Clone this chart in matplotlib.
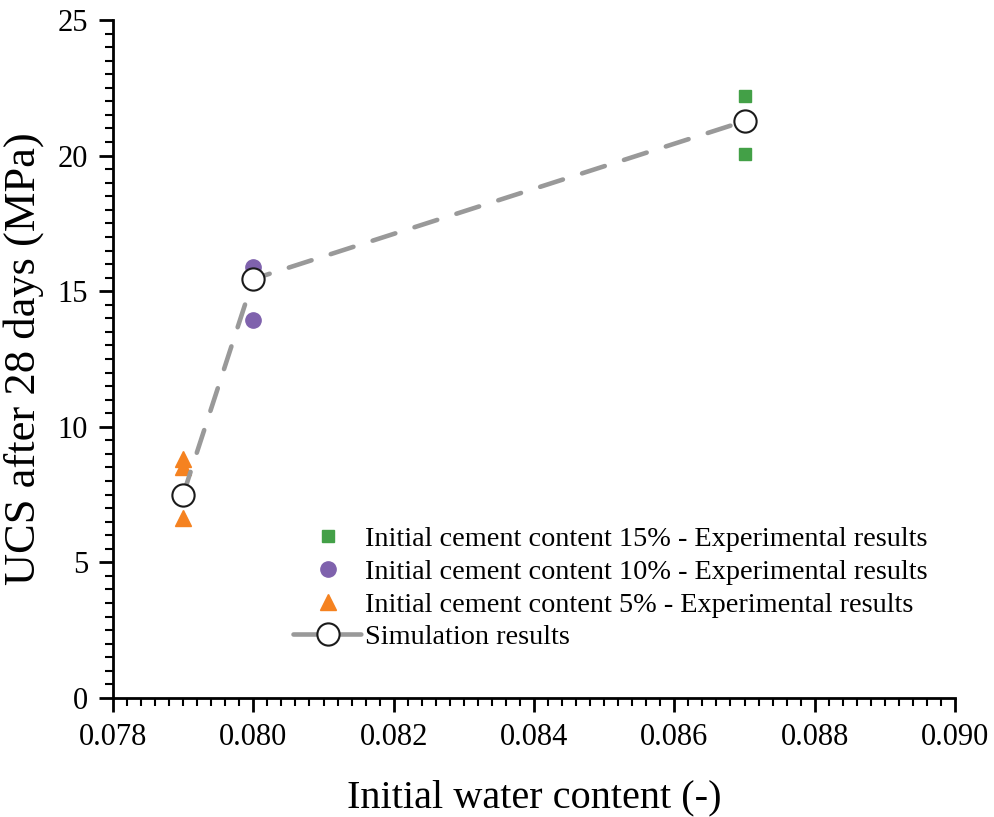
import matplotlib.pyplot as plt
from matplotlib.ticker import MultipleLocator, FormatStrFormatter

plt.rcParams['font.family'] = ['Liberation Serif', 'DejaVu Serif']

# Experimental data
x_c15 = [0.087, 0.087]
y_c15 = [22.2, 20.05]
x_c10 = [0.080, 0.080]
y_c10 = [15.9, 13.95]
x_c5 = [0.079, 0.079, 0.079]
y_c5 = [8.8, 8.5, 6.65]

# Simulation
x_sim = [0.079, 0.080, 0.087]
y_sim = [7.5, 15.45, 21.27]

fig = plt.figure(figsize=(9.94, 8.17), dpi=100)
ax = fig.add_axes([0.1137, 0.1457, 0.8471, 0.8298])

ax.plot(x_c15, y_c15, 's', color='#43a047', markersize=9, linestyle='none',
        label='Initial cement content 15% - Experimental results')
ax.plot(x_c10, y_c10, 'o', color='#7f62ad', markersize=11, linestyle='none',
        label='Initial cement content 10% - Experimental results')
ax.plot(x_c5, y_c5, '^', color='#f58220', markersize=12, linestyle='none',
        label='Initial cement content 5% - Experimental results')
ax.plot(x_sim, y_sim, linestyle=(0, (5.2, 4.4)), dash_capstyle='round',
        color='#999999', linewidth=3.3,
        marker='o', markersize=16, markerfacecolor='white',
        markeredgecolor='#1a1a1a', markeredgewidth=1.5,
        label='Simulation results')

ax.set_xlim(0.078, 0.090)
ax.set_ylim(0, 25)
ax.xaxis.set_major_locator(MultipleLocator(0.002))
ax.xaxis.set_minor_locator(MultipleLocator(0.0002))
ax.yaxis.set_major_locator(MultipleLocator(5))
ax.yaxis.set_minor_locator(MultipleLocator(0.5))
ax.xaxis.set_major_formatter(FormatStrFormatter('%.3f'))

for s in ['top', 'right']:
    ax.spines[s].set_visible(False)
for s in ['left', 'bottom']:
    ax.spines[s].set_linewidth(2)

ax.tick_params(which='major', direction='out', length=10, width=2, labelsize=22, pad=8)
ax.tick_params(which='minor', direction='out', length=6, width=1.5)

ax.set_xlabel('Initial water content (-)', fontsize=29, labelpad=20)
ax.set_ylabel('UCS after 28 days (MPa)', fontsize=32, labelpad=10)

ax.legend(loc='upper left', bbox_to_anchor=(0.2, 0.27), frameon=False,
          fontsize=20.3, handlelength=2.5, handletextpad=0.05,
          labelspacing=0.25, borderaxespad=0)

fig.savefig('out.png', dpi=100)
